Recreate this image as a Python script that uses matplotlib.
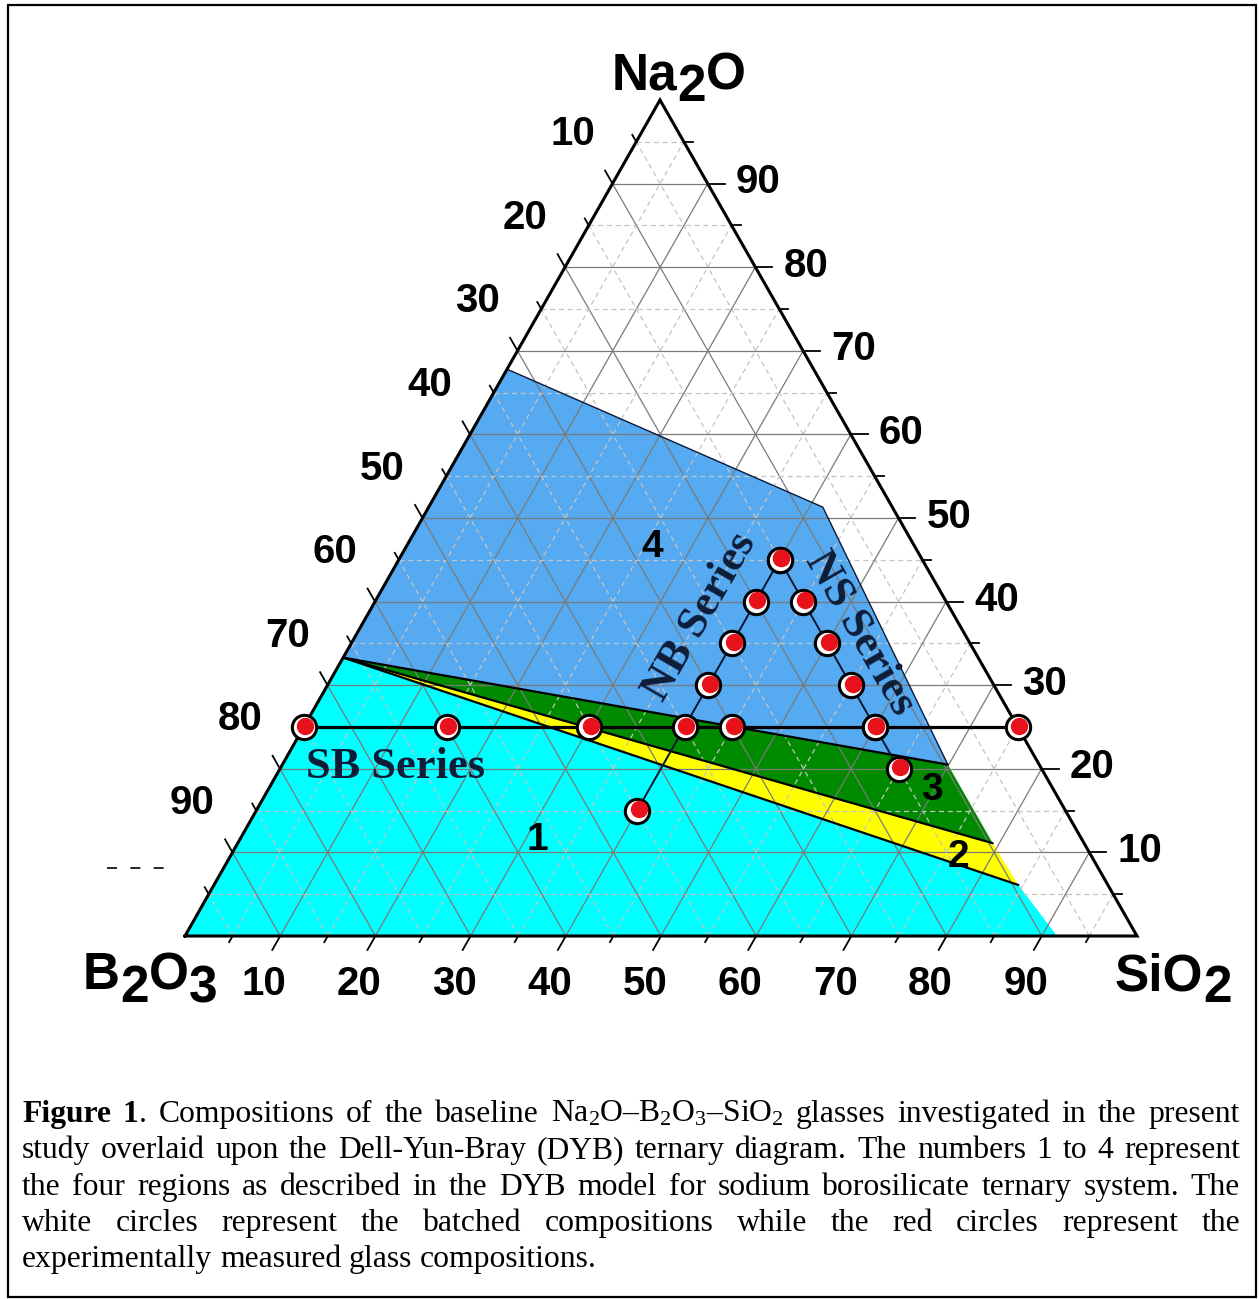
import matplotlib
matplotlib.use("Agg")
import matplotlib.pyplot as plt
from matplotlib.patches import Polygon, Rectangle
from matplotlib.transforms import offset_copy
import numpy as np

plt.rcParams["mathtext.fontset"] = "custom"
plt.rcParams["mathtext.rm"] = "Liberation Serif"
plt.rcParams["mathtext.bf"] = "Liberation Serif:bold"
plt.rcParams["mathtext.default"] = "regular"

# ---------------- data (mol %) ----------------
# SB series: constant 25 % Na2O, SiO2 replacing B2O3
sb_na2o = [25, 25, 25, 25, 25, 25]
sb_sio2 = [0, 15, 30, 45, 60, 75]
# NB series: constant 40 % SiO2
nb_na2o = [15, 25, 30, 35, 40, 45]
nb_sio2 = [40, 40, 40, 40, 40, 40]
# NS series: constant 15 % B2O3
ns_na2o = [45, 40, 35, 30, 25, 20]
ns_sio2 = [40, 45, 50, 55, 60, 65]

# Dell-Yun-Bray regions, vertices given as (Na2O, SiO2) in mol %
region4_na2o = [33.3, 67.8, 51.3, 20.5]
region4_sio2 = [0.0, 0.0, 41.4, 69.9]
region3_na2o = [33.3, 20.5, 11.1]
region3_sio2 = [0.0, 69.9, 79.3]
region2_na2o = [33.3, 11.1, 6.1]
region2_sio2 = [0.0, 79.3, 84.5]
region1_na2o = [33.3, 6.1, 0.0, 0.0]
region1_sio2 = [0.0, 84.5, 91.6, 0.0]

region_names = ["1", "2", "3", "4"]
tick_values = [10, 20, 30, 40, 50, 60, 70, 80, 90]

# ---------------- layout ----------------
W, H = 1259, 1299
fig = plt.figure(figsize=(W / 100, H / 100), dpi=100)
ax = fig.add_axes([0, 0, 1, 1])
ax.set_xlim(0, W)
ax.set_ylim(H, 0)
ax.axis("off")

# triangle corners on the canvas
BX, BY = 185.0, 936.0      # B2O3
SX, SY = 1137.0, 936.0     # SiO2
NX, NY = 660.0, 100.0      # Na2O


def tern(na2o, sio2):
    na = np.asarray(na2o, dtype=float) / 100.0
    si = np.asarray(sio2, dtype=float) / 100.0
    x = BX + si * (SX - BX) + na * (NX - BX)
    y = BY + na * (NY - BY)
    return x, y


# ---------------- coloured regions ----------------
regions = [
    (region1_na2o, region1_sio2, "#00ffff"),
    (region2_na2o, region2_sio2, "#ffff00"),
    (region3_na2o, region3_sio2, "#008a00"),
    (region4_na2o, region4_sio2, "#55aaf2"),
]
for na, si, col in regions:
    x, y = tern(na, si)
    ax.add_patch(Polygon(np.column_stack([x, y]), closed=True,
                         facecolor=col, edgecolor="none", zorder=1))

# ---------------- grid ----------------
for v in range(5, 100, 5):
    major = v % 10 == 0
    kw = dict(color="#7a7a7a", lw=0.9, ls="-") if major else \
        dict(color="#c4c4c4", lw=0.9, ls=(0, (4, 3)))
    # constant Na2O
    x, y = tern([v, v], [0, 100 - v])
    ax.plot(x, y, zorder=2, **kw)
    # constant SiO2
    x, y = tern([0, 100 - v], [v, v])
    ax.plot(x, y, zorder=2, **kw)
    # constant B2O3
    x, y = tern([0, 100 - v], [100 - v, 0])
    ax.plot(x, y, zorder=2, **kw)

# ---------------- region boundaries ----------------
for na_end, si_end in [(region3_na2o[1], region3_sio2[1]),
                       (region2_na2o[1], region2_sio2[1]),
                       (region1_na2o[1], region1_sio2[1])]:
    x, y = tern([region4_na2o[0], na_end], [0, si_end])
    ax.plot(x, y, color="black", lw=1.6, zorder=3, solid_capstyle="round")
x, y = tern(region4_na2o[1:], region4_sio2[1:])
ax.plot(x, y, color="#0a1a3a", lw=1.0, zorder=3)

# ---------------- triangle frame and ticks ----------------
ax.plot([BX, SX, NX, BX], [BY, SY, NY, BY], color="black", lw=2.2,
        zorder=4, solid_joinstyle="miter")

d_left = np.array([NX - SX, NY - SY]); d_left /= np.hypot(*d_left)
d_bottom = np.array([BX - NX, BY - NY]); d_bottom /= np.hypot(*d_bottom)
d_right = np.array([1.0, 0.0])
for v in range(5, 100, 5):
    major = v % 10 == 0
    # bottom axis: SiO2
    x0, y0 = tern(0, v)
    L = 16 if major else 7
    ax.plot([x0, x0 + L * d_bottom[0]], [y0, y0 + L * d_bottom[1]],
            color="black", lw=1.3, zorder=4)
    # left axis: B2O3
    x0, y0 = tern(100 - v, 0)
    L = 15 if major else 8
    ax.plot([x0, x0 + L * d_left[0]], [y0, y0 + L * d_left[1]],
            color="black", lw=1.3, zorder=4)
    # right axis: Na2O
    x0, y0 = tern(v, 100 - v)
    L = 17 if major else 9
    ax.plot([x0, x0 + L * d_right[0]], [y0, y0 + L * d_right[1]],
            color="black", lw=1.3, zorder=4)

tick_font = dict(family="Liberation Sans", weight="bold", size=29)
for v in tick_values:
    x0, y0 = tern(0, v)
    ax.text(x0 - 16, y0 + 59, str(v), ha="center", va="baseline", **tick_font)
    x0, y0 = tern(100 - v, 0)
    ax.text(x0 - 40, y0 - 38.5, str(v), ha="center", va="baseline", **tick_font)
    x0, y0 = tern(v, 100 - v)
    ax.text(x0 + 28, y0 + 9.5, str(v), ha="left", va="baseline", **tick_font)

renderer = fig.canvas.get_renderer()


def draw_pieces(x, y, pieces, **kw):
    """Draw text pieces side by side; each piece has its own baseline shift."""
    for s, dy in pieces:
        t = ax.text(x, y + dy, s, ha="left", va="baseline", **kw)
        x += t.get_window_extent(renderer).width


label_font = dict(family="Liberation Sans", weight="bold", size=37, zorder=7)
draw_pieces(612, 89, [("Na", 0), ("2", 12), ("O", 0)], **label_font)
draw_pieces(83, 989, [("B", 0), ("2", 13), ("O", 0), ("3", 13)], **label_font)
draw_pieces(1115, 990, [("SiO", 0), ("2", 12)], **label_font)

# stray legend dashes left of the frame
ax.plot([107, 165], [868, 868], color="black", lw=1.2, ls=(0, (6, 8)))

# ---------------- series ----------------
ser_col = "#0b1730"
x, y = tern(sb_na2o, sb_sio2)
ax.plot(x, y, color="black", lw=2.3, zorder=5)
x, y = tern(nb_na2o, nb_sio2)
ax.plot(x, y, color=ser_col, lw=1.4, zorder=5)
x, y = tern(ns_na2o, ns_sio2)
ax.plot(x, y, color=ser_col, lw=1.4, zorder=5)

red_tr = offset_copy(ax.transData, fig=fig, x=1.5, y=1.5, units="dots")
for na, si in [(sb_na2o, sb_sio2), (nb_na2o, nb_sio2), (ns_na2o, ns_sio2)]:
    x, y = tern(na, si)
    ax.plot(x, y, ls="none", marker="o", ms=17.5, mfc="white", mec="black",
            mew=2.2, zorder=6)
    ax.plot(x, y, ls="none", marker="o", ms=12.5, mfc="#e8121c", mec="none",
            zorder=6.5, transform=red_tr)

series_font = dict(family="Liberation Serif", weight="bold", size=32,
                   color="#0e1c38", zorder=7)
ax.text(396, 767, "SB Series", ha="center", va="center", **series_font)
ax.text(700, 617, "NB Series", ha="center", va="center", rotation=60,
        rotation_mode="anchor", **series_font)
ax.text(860, 633, "NS Series", ha="center", va="center", rotation=-60,
        rotation_mode="anchor", **series_font)

num_font = dict(family="Liberation Sans", weight="bold", size=28,
                color="black", zorder=7)
for name, (px, py) in zip(region_names,
                          [(537, 840), (958, 857), (932, 790), (652, 547)]):
    ax.text(px, py, name, ha="center", va="center", **num_font)

# ---------------- caption ----------------
caption_lines = [
    "**Figure** **1**. Compositions of the baseline Na$_2$O\u2013B$_2$O$_3$\u2013SiO$_2$ glasses investigated in the present",
    "study overlaid upon the Dell-Yun-Bray (DYB) ternary diagram. The numbers 1 to 4 represent",
    "the four regions as described in the DYB model for sodium borosilicate ternary system. The",
    "white circles represent the batched compositions while the red circles represent the",
    "experimentally measured glass compositions.",
]
cap_left, cap_right = 22.0, 1240.0
cap_base0, cap_step = 1122.0, 36.3
cap_font = dict(family="Liberation Serif", size=22.8, color="black")

space_w = ax.text(0, 0, "a a", **cap_font)
tmp_a = ax.text(0, 0, "aa", **cap_font)
sw = space_w.get_window_extent(renderer).width - tmp_a.get_window_extent(renderer).width
space_w.remove()
tmp_a.remove()

for i, line in enumerate(caption_lines):
    yb = cap_base0 + i * cap_step
    words = []
    for w in line.split(" "):
        segs = w.split("**")
        objs = []
        for k, s in enumerate(segs):
            if not s:
                continue
            t = ax.text(0, yb, s, ha="left", va="baseline",
                        weight="bold" if k % 2 == 1 else "normal", **cap_font)
            objs.append((t, t.get_window_extent(renderer).width))
        words.append(objs)
    widths = [sum(wd for _, wd in objs) for objs in words]
    last = i == len(caption_lines) - 1
    gap = sw if last else (cap_right - cap_left - sum(widths)) / (len(words) - 1)
    x = cap_left
    for objs, wtot in zip(words, widths):
        xx = x
        for t, wd in objs:
            t.set_x(xx)
            xx += wd
        x += wtot + gap

# outer frame
ax.add_patch(Rectangle((8, 4.5), 1248, 1292, fill=False, edgecolor="black",
                       lw=1.6, zorder=8))

fig.savefig("out.png", dpi=100)
